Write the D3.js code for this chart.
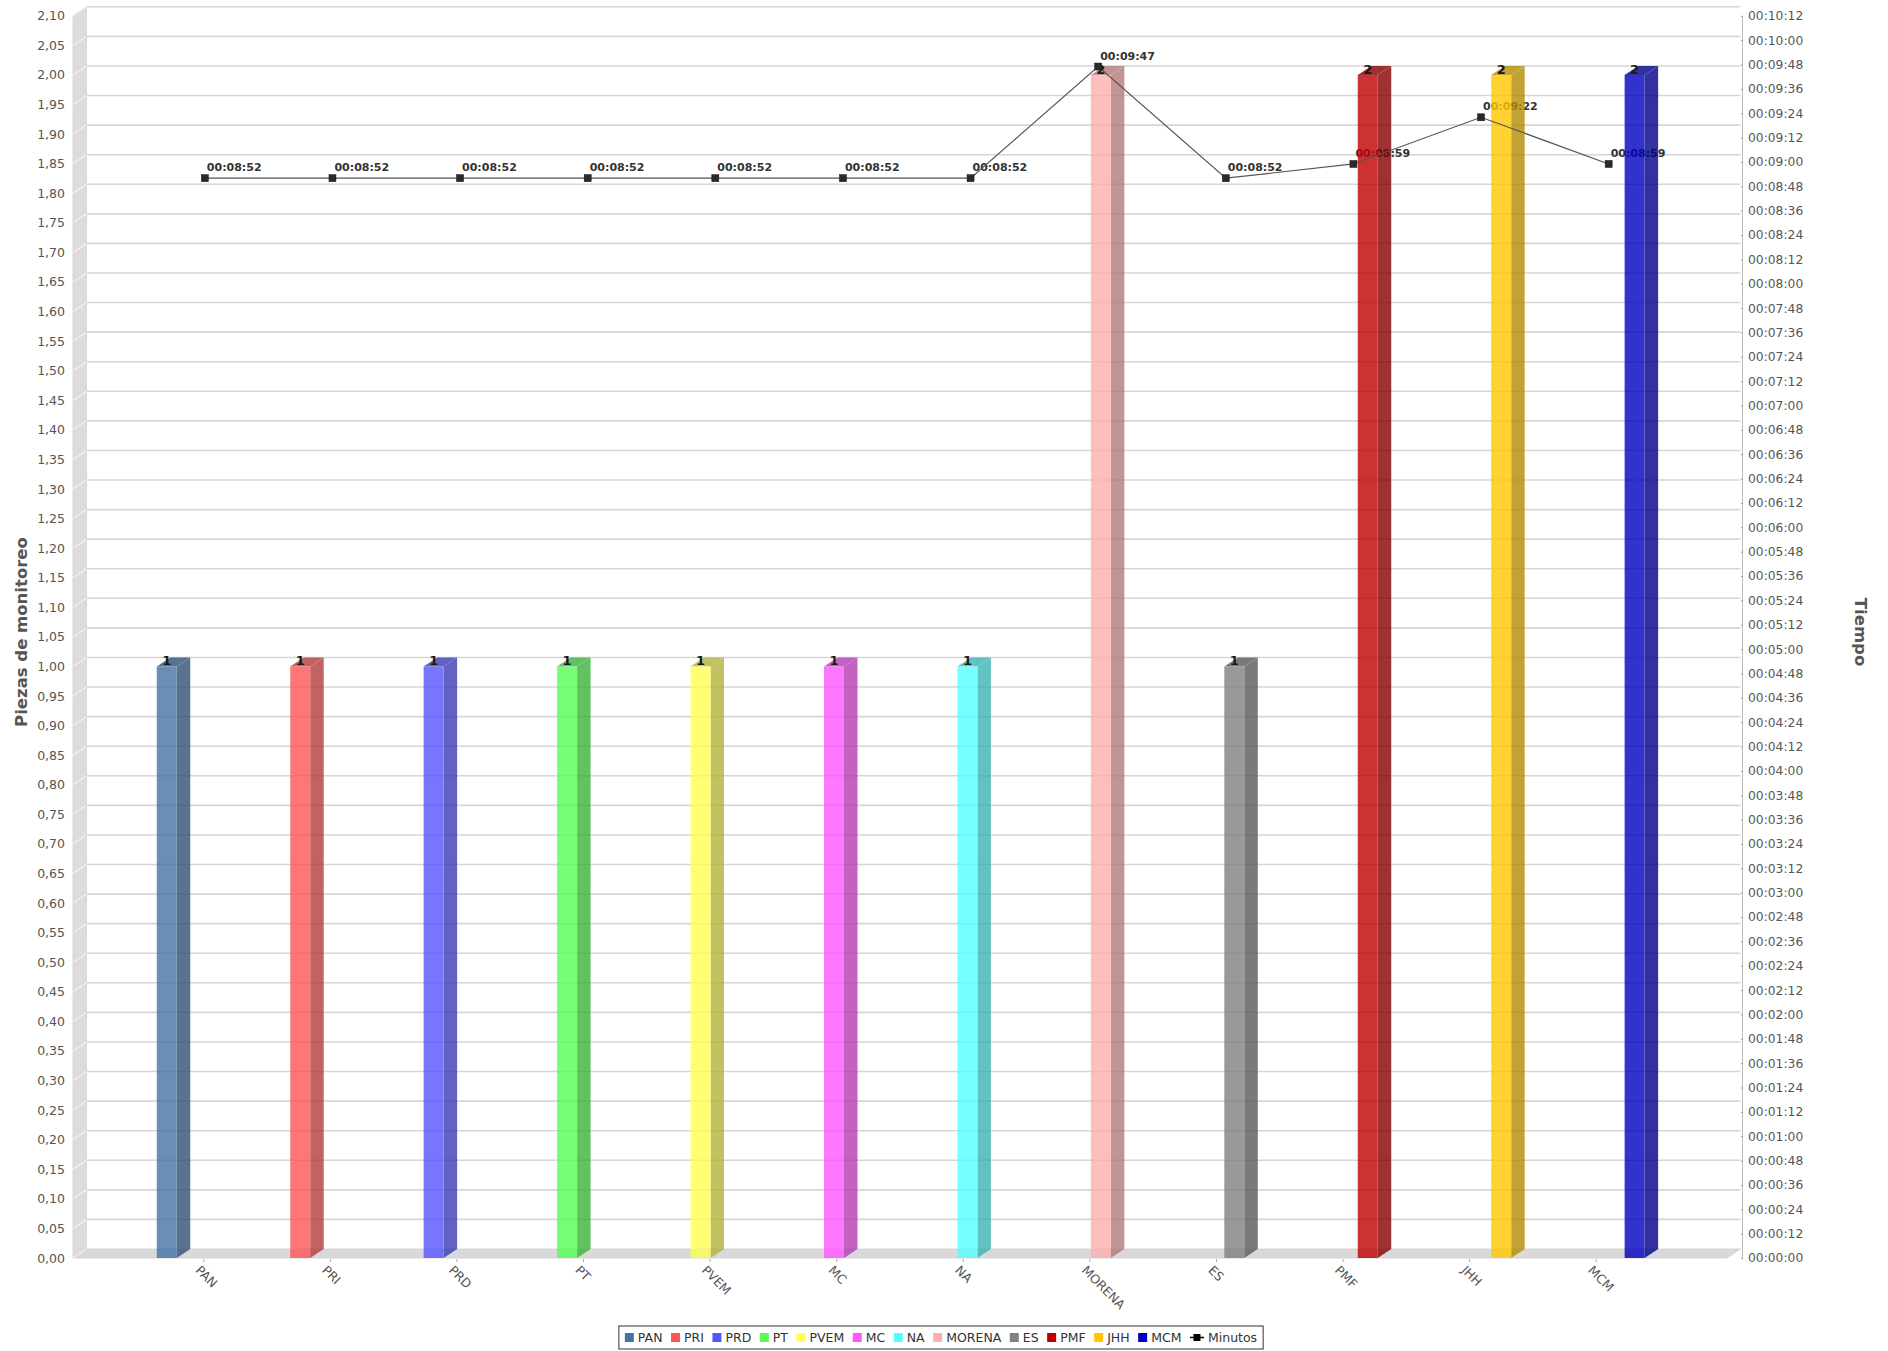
<!DOCTYPE html>
<html><head><meta charset="utf-8">
<script src="https://cdnjs.cloudflare.com/ajax/libs/d3/7.8.5/d3.min.js"></script>
<style>body{margin:0;background:#fff;} text{font-family:"DejaVu Sans",sans-serif;}</style>
</head><body><svg id="c" width="1888" height="1351" xmlns="http://www.w3.org/2000/svg"></svg>
<script>
// ---- data ----
const categories = ["PAN","PRI","PRD","PT","PVEM","MC","NA","MORENA","ES","PMF","JHH","MCM"];
const piezas = [1,1,1,1,1,1,1,2,1,2,2,2];
const minutos = ["00:08:52","00:08:52","00:08:52","00:08:52","00:08:52","00:08:52","00:08:52","00:09:47","00:08:52","00:08:59","00:09:22","00:08:59"];
const colors = ["#4572a7","#ff5555","#5555ff","#55ff55","#ffff55","#ff55ff","#55ffff","#ffafaf","#808080","#c00000","#ffc800","#0000c0"];
const leftTicks = d3.range(0, 43).map(i => +(i*0.05).toFixed(2));
const rightTicks = d3.range(0, 52).map(i => i*12);
const leftTitle = "Piezas de monitoreo";
const rightTitle = "Tiempo";
const lineName = "Minutos";

// ---- helpers ----
const toSec = s => { const p = s.split(":").map(Number); return p[0]*3600 + p[1]*60 + p[2]; };
const fmtTime = s => { const h=Math.floor(s/3600), m=Math.floor((s%3600)/60), sec=s%60;
  return [h,m,sec].map(v=>String(v).padStart(2,"0")).join(":"); };
const fmtNum = v => v.toFixed(2).replace(".", ",");

// ---- layout ----
const M = {x0:73, x1:1727, yTop:15.8, yBot:1258, dx:13.5, dy:9};
const svg = d3.select("#c");
const y = d3.scaleLinear().domain([0,2.1]).range([M.yBot, M.yTop]);
const yT = d3.scaleLinear().domain([0,612]).range([M.yBot, M.yTop]);
const xCat = d3.scaleBand().domain(categories).range([M.x0, M.x1]).paddingInner(0).paddingOuter(0.533);
const xLine = xCat.copy().range([M.x0, M.x1 + M.dx]);
const xSer = d3.scalePoint().domain(categories).range([-47, 28.4]);
const barW = 20;
const cx = c => xCat(c) + xCat.bandwidth()/2;
const lx = c => xLine(c) + xLine.bandwidth()/2;

// back wall
svg.append("rect").attr("x", M.x0+M.dx).attr("y", M.yTop-M.dy)
  .attr("width", M.x1-M.x0).attr("height", M.yBot-M.yTop).attr("fill","#fff");
// left wall
svg.append("polygon").attr("points", [[M.x0,M.yTop],[M.x0+M.dx,M.yTop-M.dy],[M.x0+M.dx,M.yBot-M.dy],[M.x0,M.yBot]].join(" "))
  .attr("fill","#dcdcdc").attr("stroke","#d0d0d0").attr("stroke-width",0.8);
// floor
svg.append("polygon").attr("points", [[M.x0,M.yBot],[M.x0+M.dx,M.yBot-M.dy],[M.x1+M.dx,M.yBot-M.dy],[M.x1,M.yBot]].join(" "))
  .attr("fill","#d9d9d9").attr("stroke","#cfcfcf").attr("stroke-width",0.8);

// gridlines
const grid = svg.append("g");
leftTicks.forEach(v => {
  if (v > 0) grid.append("line").attr("x1", M.x0+M.dx).attr("x2", M.x1+M.dx)
    .attr("y1", y(v)-M.dy).attr("y2", y(v)-M.dy).attr("stroke","#d6d6d6").attr("stroke-width",1.6);
  grid.append("line").attr("x1", M.x0).attr("x2", M.x0+M.dx)
    .attr("y1", y(v)).attr("y2", y(v)-M.dy).attr("stroke","#f2f2f2").attr("stroke-width",1.2);
});

// left tick labels
svg.append("g").selectAll("text").data(leftTicks).join("text")
  .attr("x", 65).attr("y", d => y(d)).attr("dy","0.36em").attr("text-anchor","end")
  .attr("font-size","12.5px").attr("fill","#555").text(fmtNum);

// right axis
const ra = svg.append("g").attr("transform", `translate(1742,0)`)
  .call(d3.axisRight(yT).tickValues(rightTicks).tickFormat(fmtTime).tickSize(2).tickSizeOuter(0).tickPadding(4));
ra.select(".domain").attr("stroke","#bbb");
ra.selectAll(".tick line").attr("stroke","#999").attr("transform","translate(-1,0)");
ra.selectAll("text").attr("font-size","12.3px").attr("fill","#555").attr("font-family","DejaVu Sans");

// x ticks & labels
const xa = svg.append("g");
categories.forEach(c => {
  xa.append("line").attr("x1", cx(c)).attr("x2", cx(c)).attr("y1", M.yBot+1).attr("y2", M.yBot+4).attr("stroke","#aaa");
  xa.append("text").attr("transform", `translate(${cx(c)-9},${M.yBot+13}) rotate(45)`)
    .attr("font-size","12.5px").attr("fill","#555").text(c);
});

// axis titles
svg.append("text").attr("transform", `translate(27,632) rotate(-90)`).attr("text-anchor","middle")
  .attr("font-size","16.5px").attr("font-weight","bold").attr("fill","#555").text(leftTitle);
svg.append("text").attr("transform", `translate(1855,632) rotate(90)`).attr("text-anchor","middle")
  .attr("font-size","16.5px").attr("font-weight","bold").attr("fill","#555").text(rightTitle);

// line series labels (under the semi-transparent bars)
const lineData = categories.map((c,i) => ({c, s: toSec(minutos[i]), t: minutos[i]}));
svg.append("g").selectAll("text").data(lineData).join("text")
  .attr("x", d => lx(d.c)+2).attr("y", d => yT(d.s)-7)
  .attr("font-size","11px").attr("font-weight","bold").attr("fill","#333").text(d => d.t);

// 3D bars
const bg = svg.append("g").attr("opacity", 0.8);
categories.forEach((c,i) => {
  const v = piezas[i];
  const bx = cx(c) + xSer(c);
  const yt = y(v), yb = y(0);
  const g = bg.append("g");
  const base = d3.color(colors[i]);
  const dark = base.darker(1).formatHex();
  g.append("polygon").attr("points", [[bx+barW,yt],[bx+barW+M.dx,yt-M.dy],[bx+barW+M.dx,yb-M.dy],[bx+barW,yb]].join(" "))
    .attr("fill", dark);
  g.append("polygon").attr("points", [[bx,yt],[bx+M.dx,yt-M.dy],[bx+barW+M.dx,yt-M.dy],[bx+barW,yt]].join(" "))
    .attr("fill", dark);
  g.append("rect").attr("x", bx).attr("y", yt).attr("width", barW).attr("height", yb-yt).attr("fill", base.formatHex());
});
// bar value labels
categories.forEach((c,i) => {
  const bx = cx(c) + xSer(c);
  svg.append("text").attr("x", bx + barW/2).attr("y", y(piezas[i]) - 1).attr("text-anchor","middle")
    .attr("font-size","13px").attr("font-weight","bold").attr("fill","#1a1a1a").text(piezas[i]);
});

// line path + markers on top
const lg = svg.append("g");
lg.append("path").datum(lineData)
  .attr("d", d3.line().x(d => lx(d.c)).y(d => yT(d.s)))
  .attr("fill","none").attr("stroke","#555").attr("stroke-width",1.2);
lg.selectAll("rect").data(lineData).join("rect")
  .attr("x", d => lx(d.c)-3.5).attr("y", d => yT(d.s)-3.5).attr("width",7).attr("height",7)
  .attr("fill","#2a2a2a").attr("stroke","#111").attr("stroke-width",0.5);

// legend
const legBox = svg.append("rect").attr("y", 1326).attr("height", 23)
  .attr("fill","#fff").attr("stroke","#333").attr("stroke-width",1);
const leg = svg.append("g");
let xp = 0;
const items = categories.map((c,i) => ({name:c, color:colors[i], line:false})).concat([{name:lineName, color:"#000", line:true}]);
items.forEach(it => {
  const g = leg.append("g").attr("transform", `translate(${xp},0)`);
  if (it.line) {
    g.append("line").attr("x1",0).attr("x2",14).attr("y1",0).attr("y2",0).attr("stroke","#000").attr("stroke-width",1.5);
    g.append("rect").attr("x",3.5).attr("y",-3.5).attr("width",7).attr("height",7).attr("fill","#000");
    const t = g.append("text").attr("x",18).attr("dy","0.36em").attr("font-size","12.5px").attr("fill","#333").text(it.name);
    xp += 18 + t.node().getComputedTextLength() + 8.5;
  } else {
    g.append("rect").attr("x",0).attr("y",-4.5).attr("width",9).attr("height",9).attr("fill",it.color);
    const t = g.append("text").attr("x",13).attr("dy","0.36em").attr("font-size","12.5px").attr("fill","#333").text(it.name);
    xp += 13 + t.node().getComputedTextLength() + 8.5;
  }
});
const legW = xp - 8.5 + 12;
const legX = 941 - legW/2;
leg.attr("transform", `translate(${legX+6},1337.5)`);
legBox.attr("x", legX).attr("width", legW);
</script></body></html>
